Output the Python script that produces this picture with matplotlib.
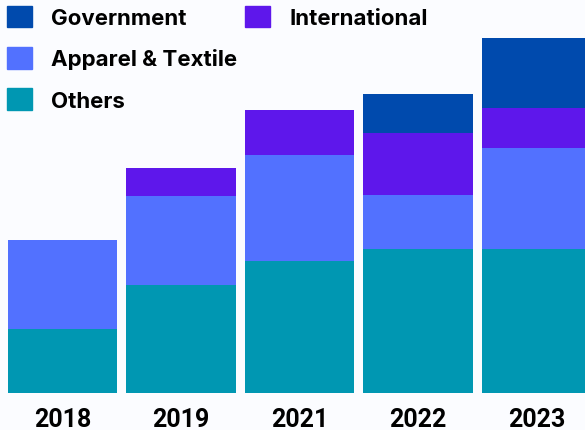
import numpy as np
import matplotlib.pyplot as plt
from matplotlib.patches import Patch

years = ['2018', '2019', '2021', '2022', '2023']
others = [64, 108, 132, 144, 144]
apparel = [89, 89, 106, 54, 101]
international = [0, 28, 45, 62, 40]
government = [0, 0, 0, 39, 70]

c_gov = '#004aad'
c_int = '#5e17eb'
c_app = '#5271ff'
c_oth = '#0097b2'
bg = '#fbfcff'

fig = plt.figure(figsize=(5.85, 4.31), dpi=100, facecolor=bg)
ax = fig.add_axes([0, 37 / 431, 1, 394 / 431])
ax.set_facecolor(bg)

x = np.arange(len(years))
w = 0.92
b1 = np.array(others)
b2 = b1 + np.array(apparel)
b3 = b2 + np.array(international)
ax.bar(x, others, w, color=c_oth)
ax.bar(x, apparel, w, bottom=b1, color=c_app)
ax.bar(x, international, w, bottom=b2, color=c_int)
ax.bar(x, government, w, bottom=b3, color=c_gov)

ax.set_xlim(-62.5 / 118.5, (585 - 62.5) / 118.5)
ax.set_ylim(0, 394)
ax.set_xticks(x)
ax.set_xticklabels(years, fontsize=18, fontweight='bold', family='Roboto')
ax.tick_params(axis='x', length=0, pad=10)
ax.set_yticks([])
for s in ax.spines.values():
    s.set_visible(False)

# legend: two blocks, left column of three and International on its own
lfont = {'family': 'Inter', 'weight': 'bold', 'size': 16}
lkw = dict(loc='upper left', bbox_transform=fig.transFigure, frameon=False, prop=lfont,
           handlelength=1.15, handleheight=1.12, handletextpad=0.85,
           labelspacing=0.85, borderpad=0.3, borderaxespad=0)
leg1 = ax.legend(handles=[Patch(color=c_gov, label='Government'),
                          Patch(color=c_app, label='Apparel & Textile'),
                          Patch(color=c_oth, label='Others')],
                 bbox_to_anchor=(0, 1), **lkw)
ax.add_artist(leg1)
ax.legend(handles=[Patch(color=c_int, label='International')],
          bbox_to_anchor=(238 / 585, 1), **lkw)

fig.savefig('out.png', dpi=100, facecolor=bg)
